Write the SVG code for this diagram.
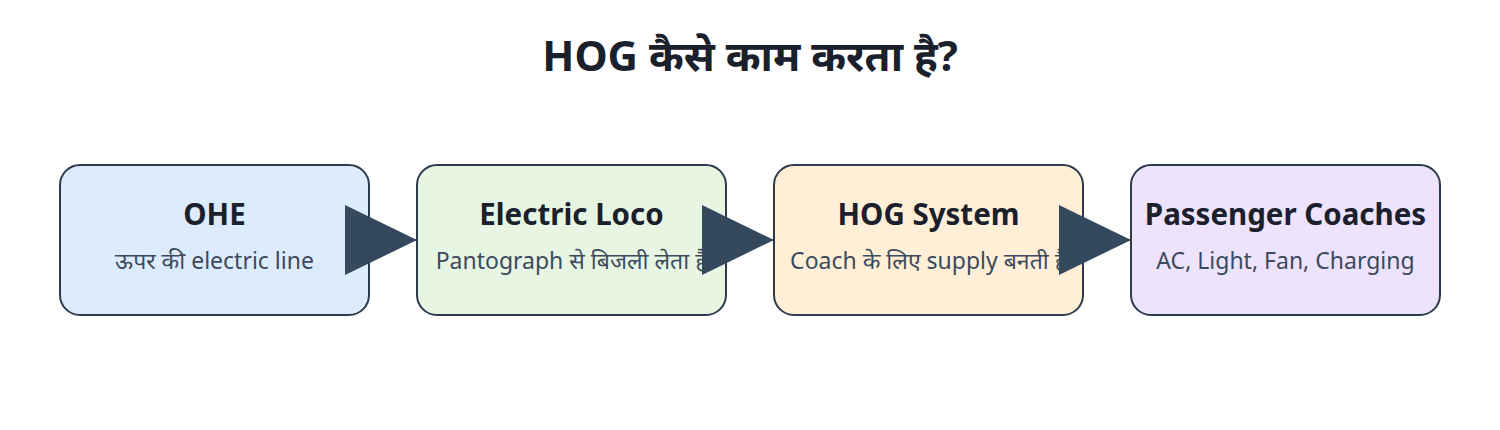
<svg xmlns="http://www.w3.org/2000/svg" width="1500" height="430" viewBox="0 0 1500 430">
<style>
.box{stroke:#2d3b4e;stroke-width:2}
.title{font-family:"Noto Sans","Noto Sans Devanagari",sans-serif;font-weight:bold;font-size:42px;fill:#1a202c;text-anchor:middle}
.nt{font-family:"Noto Sans","Noto Sans Devanagari",sans-serif;font-weight:bold;font-size:29.5px;fill:#1a202c;text-anchor:middle}
.ns{font-family:"Noto Sans","Noto Sans Devanagari",sans-serif;font-size:23px;fill:#3d4a5c;text-anchor:middle}
.conn{stroke:#34495e;stroke-width:2;fill:none}
</style>
<defs>
<marker id="arr" markerUnits="userSpaceOnUse" markerWidth="72" markerHeight="70" refX="72" refY="35" orient="auto" viewBox="0 0 72 70">
<path d="M0,0 L72,35 L0,70 Z" fill="#34495e"/>
</marker>
</defs>
<rect width="1500" height="430" fill="#ffffff"/>
<text class="title" x="750" y="71">HOG कैसे काम करता है?</text>
<g id="node-ohe">
<rect class="box" x="60" y="165" width="309" height="150" rx="20" fill="#ddecfd"/>
<text class="nt" x="214.5" y="225">OHE</text>
<text class="ns" x="214.5" y="269">ऊपर की electric line</text>
</g>
<g id="node-loco">
<rect class="box" x="417" y="165" width="309" height="150" rx="20" fill="#e6f6e3"/>
<text class="nt" x="571.5" y="225">Electric Loco</text>
<text class="ns" x="571.5" y="269">Pantograph से बिजली लेता है</text>
</g>
<g id="node-hog">
<rect class="box" x="774" y="165" width="309" height="150" rx="20" fill="#feefd6"/>
<text class="nt" x="928.5" y="225">HOG System</text>
<text class="ns" x="928.5" y="269">Coach के लिए supply बनती है</text>
</g>
<g id="node-coaches">
<rect class="box" x="1131" y="165" width="309" height="150" rx="20" fill="#ede3fd"/>
<text class="nt" x="1285.5" y="225">Passenger Coaches</text>
<text class="ns" x="1285.5" y="269">AC, Light, Fan, Charging</text>
</g>
<g id="connectors">
<line class="conn" x1="369" y1="240" x2="417" y2="240" marker-end="url(#arr)"/>
<line class="conn" x1="726" y1="240" x2="774" y2="240" marker-end="url(#arr)"/>
<line class="conn" x1="1083" y1="240" x2="1131" y2="240" marker-end="url(#arr)"/>
</g>
</svg>
